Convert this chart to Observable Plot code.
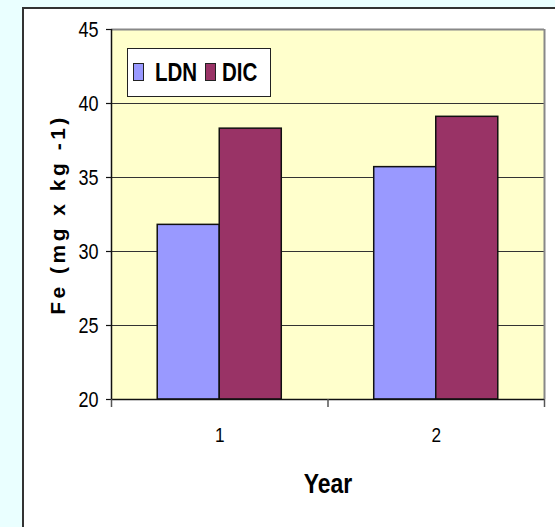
<!DOCTYPE html>
<html>
<head>
<meta charset="utf-8">
<script src="https://cdn.jsdelivr.net/npm/d3@7"></script>
<script src="https://cdn.jsdelivr.net/npm/@observablehq/plot@0.6"></script>
<style>
  html, body { margin: 0; padding: 0; }
  body { width: 555px; height: 527px; background: #eaffff; position: relative; overflow: hidden;
         font-family: "Liberation Sans", Arial, sans-serif; }
  #box { position: absolute; left: 22px; top: 7px; width: 600px; height: 600px; background: #ffffff;
         border-left: 2px solid #333; border-top: 2px solid #333; }
  #chart { position: absolute; left: 0; top: 0; }
  #legend { position: absolute; left: 127px; top: 48px; width: 144px; height: 49px; background: #fff;
            border: 1.5px solid #222; box-sizing: border-box;
            font-weight: bold; font-size: 25px; color: #000; }
  #legend .sw { position: absolute; top: 14px; width: 9px; height: 16px; border: 1.5px solid #222; }
  #legend .tx { position: absolute; top: 8px; line-height: 30px; transform: scaleX(0.82); transform-origin: left center; white-space: nowrap; }
</style>
</head>
<body>
<div id="box"></div>
<div id="chart"></div>
<div id="legend"></div>
<script>
const years = [1, 2];
const xTickLabels = ["1", "2"];
const series = ["LDN", "DIC"];
const ldnValues = [31.8, 35.7];
const dicValues = [38.3, 39.1];
const yTicks = [20, 25, 30, 35, 40, 45];
const gridValues = [25, 30, 35, 40];
const seriesColors = ["#9999ff", "#993366"];
const yTitle = "Fe (mg x kg -1)";
const xTitle = "Year";

const halfGroup = 0.2865; // bar width in year units
const data = years.flatMap((y, i) => [
  {year: y, series: "LDN", value: ldnValues[i]},
  {year: y, series: "DIC", value: dicValues[i]}
]);

const font = '"Liberation Sans", Arial, sans-serif';

const chart = Plot.plot({
  width: 555,
  height: 527,
  marginLeft: 111,
  marginRight: 11,
  marginTop: 29,
  marginBottom: 128,
  style: {background: "transparent", fontFamily: font, color: "#000", overflow: "visible"},
  x: {type: "linear", domain: [0.5, 2.5], axis: null},
  y: {domain: [20, 45], axis: null},
  color: {domain: series, range: seriesColors},
  marks: [
    Plot.frame({fill: "#ffffcc", stroke: "none"}),
    Plot.ruleY(gridValues, {stroke: "#333", strokeWidth: 1}),
    Plot.rect(data, {
      x1: d => d.series === "LDN" ? d.year - halfGroup : d.year,
      x2: d => d.series === "LDN" ? d.year : d.year + halfGroup,
      y1: 20, y2: "value",
      fill: "series", stroke: "#111", strokeWidth: 1.5
    }),
    Plot.ruleY([45], {stroke: "#888", strokeWidth: 2}),
    Plot.ruleX([2.5], {y1: 20, y2: 45, stroke: "#888", strokeWidth: 2}),
    Plot.ruleX([0.5], {y1: 20, y2: 45, stroke: "#111", strokeWidth: 1.5}),
    Plot.ruleY([20], {stroke: "#111", strokeWidth: 1.5}),
    Plot.axisY({ticks: yTicks, tickSize: 5, tickPadding: 8, fontSize: 22, stroke: "#111", strokeWidth: 1.2, label: null}),
    Plot.axisX({ticks: [0.5, 1.5, 2.5], tickSize: 8, tickFormat: () => "", stroke: "#555", strokeWidth: 1.5, label: null}),
    Plot.axisX({ticks: years, tickSize: 0, tickPadding: 28, fontSize: 21, tickFormat: (d) => xTickLabels[years.indexOf(d)], label: null}),
    Plot.text([yTitle], {frameAnchor: "left", dx: -53, rotate: -90, textAnchor: "middle", fontSize: 21, fontWeight: "bold", fill: "#000"}),
    Plot.text([xTitle], {frameAnchor: "bottom", dy: 93, fontSize: 28, fontWeight: "bold", fill: "#000"})
  ]
});
document.getElementById("chart").appendChild(chart);
// condensed look (Arial Narrow style) for all texts except the y title, which is letter-spaced
d3.select(chart).selectAll("text").each(function() {
  const t = d3.select(this);
  if (this.textContent === yTitle) {
    t.style("letter-spacing", "3.5px");
  } else {
    const tr = t.attr("transform") || "";
    t.attr("transform", (tr + " scale(0.82,1)").trim());
  }
});

const legend = document.getElementById("legend");
const swLeft = [5, 77];
const txLeft = [27, 94];
series.forEach((s, i) => {
  const sw = document.createElement("span");
  sw.className = "sw";
  sw.style.left = swLeft[i] + "px";
  sw.style.background = seriesColors[i];
  legend.appendChild(sw);
  const tx = document.createElement("span");
  tx.className = "tx";
  tx.style.left = txLeft[i] + "px";
  tx.textContent = s;
  legend.appendChild(tx);
});
</script>
</body>
</html>
